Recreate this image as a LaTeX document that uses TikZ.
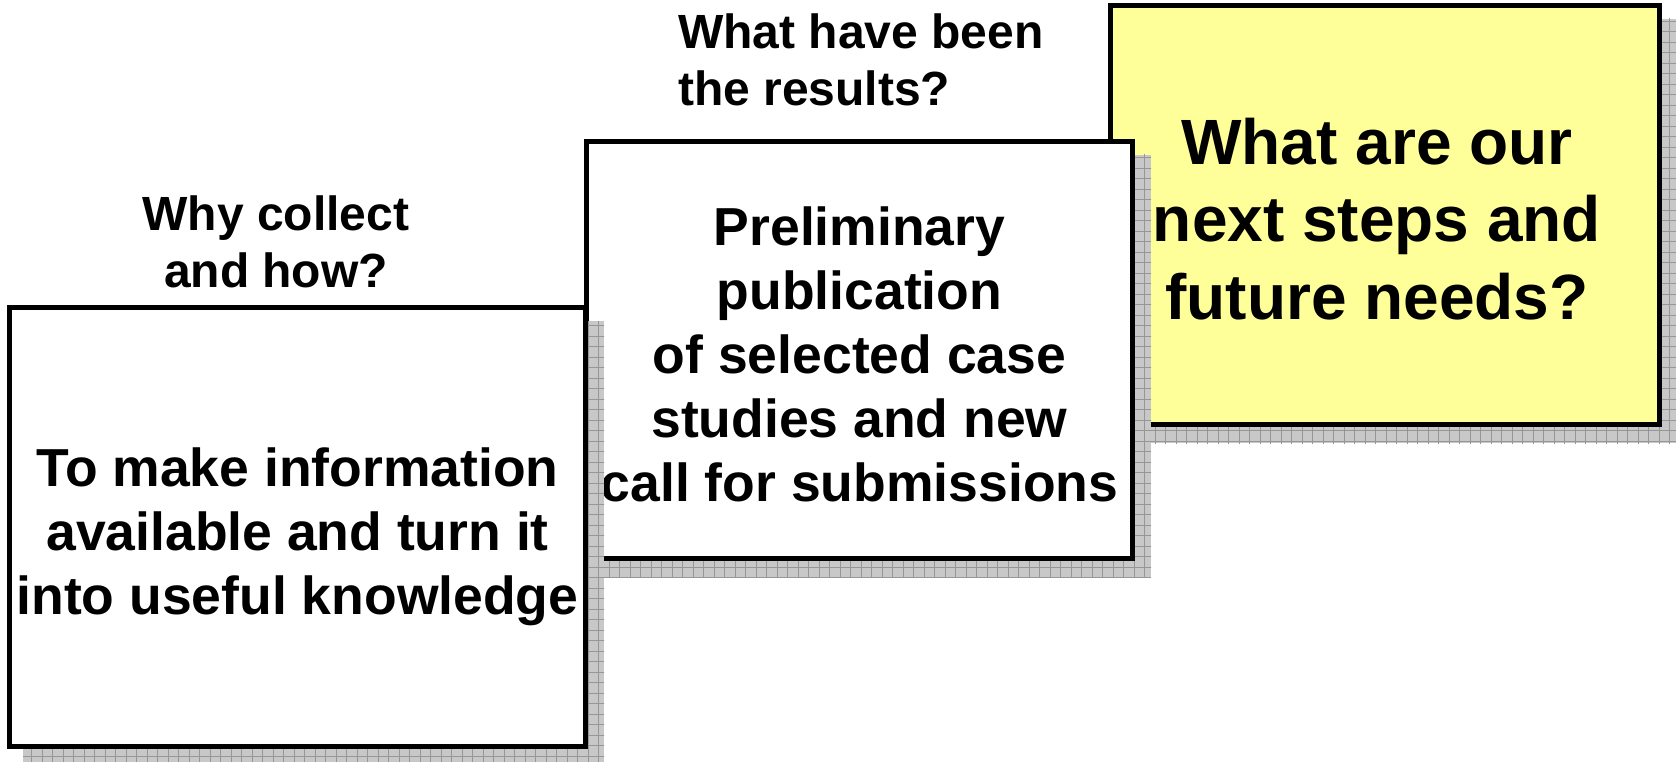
\documentclass[tikz,border=0pt]{standalone}
\usepackage{fontspec}
\setmainfont{Liberation Sans}
\definecolor{shadefill}{RGB}{200,200,200}
\definecolor{shadegrid}{RGB}{150,150,150}
\definecolor{paleyellow}{RGB}{255,255,153}
\tikzset{
  card/.style={draw=black, line width=5pt, fill=white, rectangle, inner sep=0pt},
  cardtext/.style={align=center, inner sep=0pt, text=black},
  lbl/.style={align=center, inner sep=0pt, font=\fontsize{48}{57}\selectfont\bfseries},
  boxfont/.style={font=\fontsize{53.5}{64}\selectfont\bfseries},
  bigfont/.style={font=\fontsize{64}{77.5}\selectfont\bfseries},
}
\newcommand{\shadowrect}[4]{%
  \begin{scope}
    \clip (#1,#2) rectangle (#3,#4);
    \fill[shadefill] (#1,#2) rectangle (#3,#4);
    \draw[shadegrid, line width=0.8pt] (0,0) grid[step=10.5pt] (1680,770);
  \end{scope}}
\begin{document}
\begin{tikzpicture}[x=1pt,y=-1pt]
\useasboundingbox (0,0) rectangle (1676,762);
% box 3 (yellow)
\shadowrect{1124}{19}{1676}{443}
\node[card, fill=paleyellow, minimum width=549pt, minimum height=419pt] (b3) at (1385,215) {};
\node[cardtext, bigfont] (t3) at ([shift={(-8,4)}]b3.center)
  {What are our\\next steps and\\future needs?};
% box 2
\shadowrect{600}{155}{1151}{577}
\node[card, minimum width=546pt, minimum height=417pt] (b2) at (859.5,350) {};
\node[cardtext, boxfont] (t2) at ([shift={(0,4)}]b2.center)
  {Preliminary\\publication\\of selected case\\studies and new\\call for submissions};
% box 1
\shadowrect{23}{321}{604}{762}
\node[card, minimum width=576pt, minimum height=439pt] (b1) at (297.5,527) {};
\node[cardtext, boxfont] (t1) at ([shift={(0,10)}]b1.center)
  {To make information\\available and turn it\\into useful knowledge};
% labels
\node[lbl] (l1) at (276,242) {Why collect\\and how?};
\node[lbl, align=left, anchor=west] (l2) at (678,60) {What have been\\the results?};
\end{tikzpicture}
\end{document}
